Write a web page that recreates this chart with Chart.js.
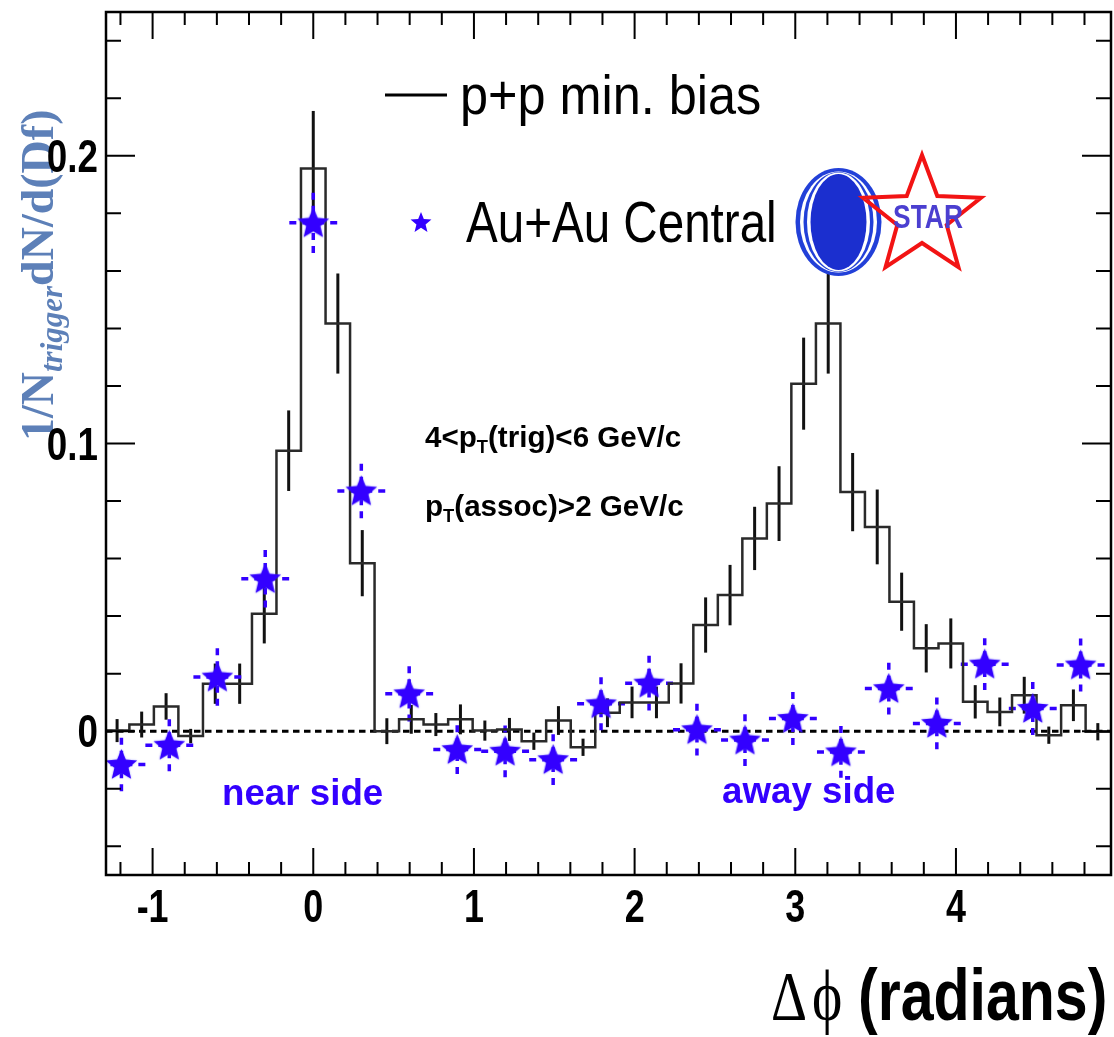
<!DOCTYPE html>
<html>
<head>
<meta charset="utf-8">
<script src="https://cdn.jsdelivr.net/npm/chart.js@4.4.0/dist/chart.umd.min.js"></script>
<style>
  html, body { margin: 0; padding: 0; background: #fff; }
  canvas { display: block; }
</style>
</head>
<body>
<canvas id="dphi" width="1114" height="1037" style="width:1114px;height:1037px"></canvas>
<script>
// p+p min. bias: bin centres (rad), yield per trigger, stat. error
const ppPhi = [-1.221, -1.068, -0.916, -0.763, -0.610, -0.458, -0.305, -0.153, 0.000,
  0.153, 0.305, 0.458, 0.610, 0.763, 0.916, 1.068, 1.221, 1.373, 1.526, 1.679, 1.831,
  1.984, 2.136, 2.289, 2.442, 2.594, 2.747, 2.899, 3.052, 3.205, 3.357, 3.510, 3.662,
  3.815, 3.968, 4.120, 4.273, 4.425, 4.578, 4.731, 4.883];
const ppVal = [0.0002, 0.0023, 0.0086, -0.0017, 0.0165, 0.0165, 0.0408, 0.0975, 0.1956,
  0.1417, 0.0584, 0.0000, 0.0041, 0.0023, 0.0041, 0.0002, 0.0006, -0.0035, 0.0037, -0.0056, 0.0064,
  0.0100, 0.0100, 0.0166, 0.0369, 0.0473, 0.0670, 0.0791, 0.1208, 0.1417, 0.0831, 0.0710, 0.0450,
  0.0288, 0.0305, 0.0102, 0.0067, 0.0125, -0.0014, 0.0090, -0.0002];
const ppErr = [0.0040, 0.0045, 0.0046, 0.0025, 0.0070, 0.0070, 0.0103, 0.0140, 0.0200,
  0.0174, 0.0115, 0.0045, 0.0050, 0.0040, 0.0052, 0.0035, 0.0040, 0.0030, 0.0050, 0.0030, 0.0050,
  0.0055, 0.0055, 0.0070, 0.0096, 0.0105, 0.0110, 0.0130, 0.0160, 0.0174, 0.0136, 0.0130, 0.0101,
  0.0084, 0.0087, 0.0058, 0.0050, 0.0064, 0.0030, 0.0055, 0.0030];

// Au+Au central
const auPhi = [-1.194, -0.896, -0.597, -0.299, 0.000, 0.299, 0.597, 0.896, 1.194, 1.493,
  1.791, 2.090, 2.388, 2.687, 2.985, 3.284, 3.582, 3.881, 4.179, 4.478, 4.776];
const auVal = [-0.0116, -0.0049, 0.0188, 0.0530, 0.1767, 0.0835, 0.0130, -0.0064, -0.0070, -0.0099,
  0.0095, 0.0167, 0.0005, -0.0031, 0.0044, -0.0072, 0.0148, 0.0027, 0.0233, 0.0079, 0.0230];
const auErr = [0.0093, 0.0090, 0.0100, 0.0100, 0.0105, 0.0095, 0.0096, 0.0085, 0.0090, 0.0088,
  0.0092, 0.0095, 0.0090, 0.0090, 0.0092, 0.0090, 0.0090, 0.0090, 0.0090, 0.0092, 0.0092];
const auHalfBin = 0.149;

// axes
const xRange = [-1.29, 4.965];
const yRange = [-0.05, 0.25];
const xMajor = [-1, 0, 1, 2, 3, 4];
const xTickLabels = ['-1', '0', '1', '2', '3', '4'];
const yMajor = [0, 0.1, 0.2];
const yTickLabels = ['0', '0.1', '0.2'];

const SANS = '"Liberation Sans", Arial, Helvetica, sans-serif';
const SERIF = '"Liberation Serif", "Times New Roman", serif';
const auBlue = '#3300ff';

function starPath(ctx, cx, cy, R, r) {
  ctx.beginPath();
  for (let i = 0; i < 10; i++) {
    const a = -Math.PI / 2 + i * Math.PI / 5;
    const rad = i % 2 ? r : R;
    ctx.lineTo(cx + rad * Math.cos(a), cy + rad * Math.sin(a));
  }
  ctx.closePath();
}

// filled star used as point style
function starSprite(R, color) {
  const c = document.createElement('canvas');
  const s = Math.ceil(2 * R + 6);
  c.width = c.height = s;
  const g = c.getContext('2d');
  g.fillStyle = color;
  g.shadowColor = 'rgba(90, 90, 255, 0.55)';
  g.shadowBlur = 2;
  starPath(g, s / 2, s / 2 + 1, R, R * 0.45);
  g.fill();
  return c;
}

// text with horizontal squeeze, pieces = [{t, font, dy}]
function runs(ctx, x, y, pieces, color, sx) {
  ctx.save();
  ctx.fillStyle = color;
  ctx.textBaseline = 'alphabetic';
  ctx.translate(x, y);
  ctx.scale(sx, 1);
  let cx = 0;
  pieces.forEach(p => {
    ctx.font = p.font;
    ctx.fillText(p.t, cx, p.dy || 0);
    cx += ctx.measureText(p.t).width;
  });
  ctx.restore();
  return cx * sx;
}

function label(ctx, str, x, y, font, color, sx, align) {
  ctx.save();
  ctx.font = font;
  const w = ctx.measureText(str).width * sx;
  ctx.restore();
  const left = align === 'center' ? x - w / 2 : align === 'right' ? x - w : x;
  runs(ctx, left, y, [{ t: str, font }], color, sx);
}

function ellipse(ctx, cx, cy, rx, ry, color) {
  ctx.beginPath();
  ctx.ellipse(cx, cy, rx, ry, 0, 0, Math.PI * 2);
  ctx.fillStyle = color;
  ctx.fill();
}

// histogram steps: pad half a bin on both ends so the outer bins are full width
const halfBin = (ppPhi[1] - ppPhi[0]) / 2;
const ppSteps = ppPhi.map((x, i) => ({ x, y: ppVal[i] }));
ppSteps.unshift({ x: ppPhi[0] - halfBin, y: ppVal[0] });
ppSteps.push({ x: ppPhi[ppPhi.length - 1] + halfBin, y: ppVal[ppVal.length - 1] });

const errorBars = {
  id: 'errorBars',
  beforeDatasetsDraw(chart) {
    const { ctx, chartArea: a, scales: { x, y } } = chart;
    ctx.save();
    ctx.beginPath();
    ctx.rect(a.left, a.top, a.right - a.left, a.bottom - a.top);
    ctx.clip();

    // zero line
    const y0 = y.getPixelForValue(0);
    ctx.setLineDash([6.5, 4.5]);
    ctx.lineWidth = 3;
    ctx.strokeStyle = '#000';
    ctx.beginPath();
    ctx.moveTo(a.left, y0);
    ctx.lineTo(a.right, y0);
    ctx.stroke();

    // p+p errors
    ctx.setLineDash([]);
    ctx.lineWidth = 3;
    ctx.strokeStyle = '#111';
    ppPhi.forEach((p, i) => {
      const px = x.getPixelForValue(p);
      ctx.beginPath();
      ctx.moveTo(px, y.getPixelForValue(ppVal[i] - ppErr[i]));
      ctx.lineTo(px, y.getPixelForValue(ppVal[i] + ppErr[i]));
      ctx.stroke();
    });

    // Au+Au errors, dashed from each tip towards the point
    ctx.strokeStyle = auBlue;
    ctx.lineWidth = 3.5;
    ctx.setLineDash([7, 6]);
    auPhi.forEach((p, i) => {
      const cx = x.getPixelForValue(p);
      const cy = y.getPixelForValue(auVal[i]);
      const tips = [
        [cx, y.getPixelForValue(auVal[i] + auErr[i])],
        [cx, y.getPixelForValue(auVal[i] - auErr[i])],
        [x.getPixelForValue(p - auHalfBin), cy],
        [x.getPixelForValue(p + auHalfBin), cy]
      ];
      tips.forEach(([tx, ty]) => {
        ctx.beginPath();
        ctx.moveTo(tx, ty);
        ctx.lineTo(cx, cy);
        ctx.stroke();
      });
    });
    ctx.restore();
  }
};

const frame = {
  id: 'frame',
  afterDraw(chart) {
    const { ctx, chartArea: a, scales: { x, y } } = chart;
    ctx.save();
    ctx.strokeStyle = '#000';
    ctx.lineWidth = 2.5;
    ctx.strokeRect(a.left, a.top, a.right - a.left, a.bottom - a.top);

    // ticks point inwards on all four sides
    ctx.lineWidth = 2;
    ctx.beginPath();
    for (let v = -1.2; v < 4.9; v += 0.2) {
      const px = x.getPixelForValue(v);
      const len = xMajor.some(m => Math.abs(m - v) < 1e-6) ? 27 : 13;
      ctx.moveTo(px, a.bottom); ctx.lineTo(px, a.bottom - len);
      ctx.moveTo(px, a.top); ctx.lineTo(px, a.top + len);
    }
    for (let v = -0.04; v < 0.25; v += 0.02) {
      const py = y.getPixelForValue(v);
      const len = yMajor.some(m => Math.abs(m - v) < 1e-6) ? 29 : 15;
      ctx.moveTo(a.left, py); ctx.lineTo(a.left + len, py);
      ctx.moveTo(a.right, py); ctx.lineTo(a.right - len, py);
    }
    ctx.stroke();

    // tick labels
    xMajor.forEach((v, i) => {
      label(ctx, xTickLabels[i], x.getPixelForValue(v), 922, 'bold 46px ' + SANS, '#000', 0.78, 'center');
    });

    // y title
    ctx.save();
    ctx.translate(53, 441);
    ctx.rotate(-Math.PI / 2);
    runs(ctx, 0, 0, [
      { t: '1/N', font: 'bold 46px ' + SERIF },
      { t: 'trigger', font: 'italic bold 31px ' + SERIF, dy: 9 },
      { t: 'dN/d(Df)', font: 'bold 46px ' + SERIF }
    ], '#5d80b8', 1.0);
    ctx.restore();

    yMajor.forEach((v, i) => {
      label(ctx, yTickLabels[i], 98, y.getPixelForValue(v) + 16, 'bold 46px ' + SANS, '#000', 0.8, 'right');
    });

    // x title
    runs(ctx, 771, 1020, [{ t: '\u0394', font: '70px ' + SERIF }], '#000', 0.8);
    runs(ctx, 812, 1020, [{ t: '\u03d5', font: '72px ' + SERIF }], '#000', 0.8);
    runs(ctx, 858, 1020, [{ t: '(radians)', font: 'bold 72px ' + SANS }], '#000', 0.82);

    // legend
    ctx.lineWidth = 3;
    ctx.beginPath();
    ctx.moveTo(385, 95);
    ctx.lineTo(447, 95);
    ctx.stroke();
    runs(ctx, 460, 114, [{ t: 'p+p min. bias', font: '56px ' + SANS }], '#000', 0.9);
    ctx.fillStyle = auBlue;
    starPath(ctx, 421, 223, 11, 4.8);
    ctx.fill();
    runs(ctx, 466, 242, [{ t: 'Au+Au Central', font: '58px ' + SANS }], '#000', 0.82);

    // cuts
    const bold = 'bold 29px ' + SANS, sub = 'bold 18px ' + SANS;
    runs(ctx, 425, 447, [
      { t: '4<p', font: bold }, { t: 'T', font: sub, dy: 6 }, { t: '(trig)<6 GeV/c', font: bold }
    ], '#000', 1.02);
    runs(ctx, 425, 516, [
      { t: 'p', font: bold }, { t: 'T', font: sub, dy: 6 }, { t: '(assoc)>2 GeV/c', font: bold }
    ], '#000', 1.02);

    // region labels
    runs(ctx, 222, 805, [{ t: 'near side', font: 'bold 36px ' + SANS }], auBlue, 1.02);
    runs(ctx, 722, 803, [{ t: 'away side', font: 'bold 36px ' + SANS }], auBlue, 1.02);

    // collider emblem
    const ex = 838.5, ey = 222;
    ellipse(ctx, ex, ey, 43, 54, '#2240d8');
    ellipse(ctx, ex, ey, 38.5, 50.5, '#fff');
    ellipse(ctx, ex, ey, 35, 50, '#2240d8');
    ellipse(ctx, ex, ey, 31.5, 49.5, '#fff');
    ellipse(ctx, ex, ey, 28, 48, '#1b2fcf');

    // STAR logo
    ctx.strokeStyle = '#f21414';
    ctx.lineWidth = 4;
    ctx.setLineDash([]);
    starPath(ctx, 922, 217, 62, 26);
    ctx.stroke();
    ctx.save();
    ctx.filter = 'blur(0.7px)';
    label(ctx, 'STAR', 928, 228, 'bold 33px ' + SANS, '#4b3fd0', 0.8, 'center');
    ctx.restore();

    ctx.restore();
  }
};

new Chart(document.getElementById('dphi'), {
  type: 'line',
  data: {
    datasets: [
      {
        label: 'Au+Au Central',
        type: 'scatter',
        data: auPhi.map((x, i) => ({ x, y: auVal[i] })),
        pointStyle: starSprite(16.5, auBlue),
        pointRadius: 16,
        order: 0
      },
      {
        label: 'p+p min. bias',
        data: ppSteps,
        stepped: 'middle',
        borderColor: '#2a2a2a',
        borderWidth: 2.5,
        pointRadius: 0,
        fill: false,
        order: 1
      }
    ]
  },
  options: {
    responsive: false,
    animation: false,
    devicePixelRatio: 1,
    layout: { autoPadding: false, padding: { left: 106, top: 12, right: 3, bottom: 162 } },
    scales: {
      x: { type: 'linear', min: xRange[0], max: xRange[1], display: false },
      y: { type: 'linear', min: yRange[0], max: yRange[1], display: false }
    },
    plugins: { legend: { display: false }, tooltip: { enabled: false } }
  },
  plugins: [errorBars, frame]
});
</script>
</body>
</html>
